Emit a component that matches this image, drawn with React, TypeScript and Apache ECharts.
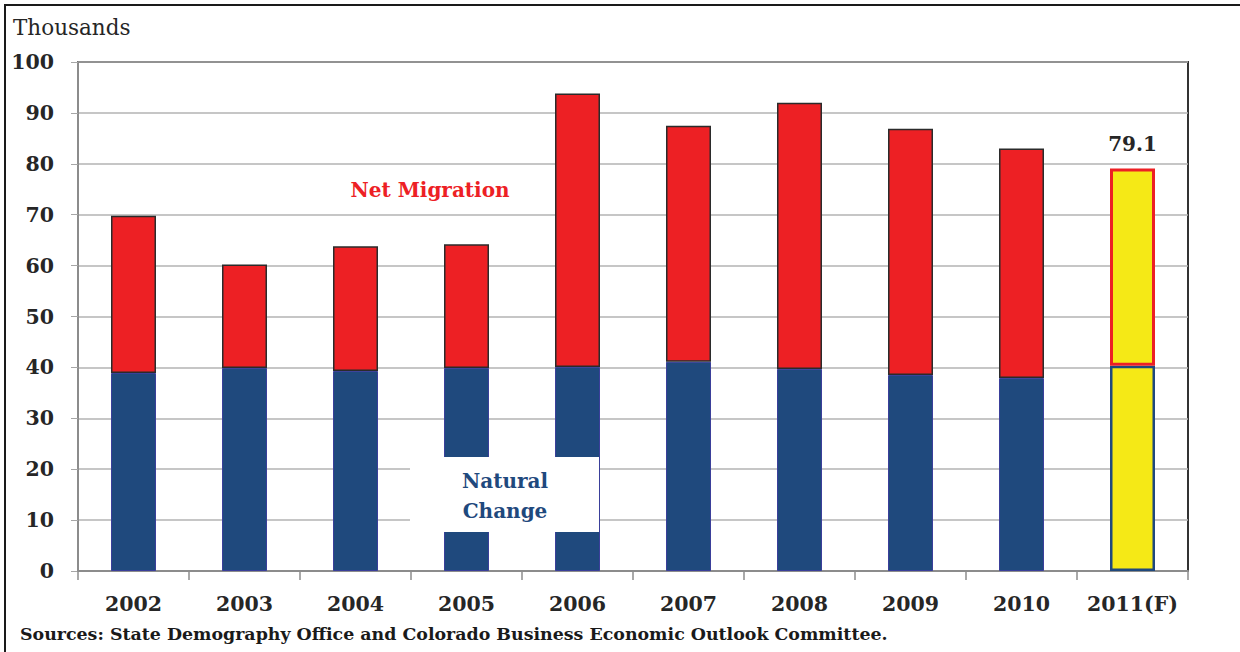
import React, { useEffect, useRef } from "react";
import * as echarts from "echarts";

const years = ["2002", "2003", "2004", "2005", "2006", "2007", "2008", "2009", "2010", "2011(F)"];
const naturalChange = [38.9, 39.9, 39.3, 39.9, 40.1, 41.1, 39.7, 38.5, 37.9, 40.3];
const totalGrowth = [69.8, 60.2, 63.8, 64.2, 93.8, 87.5, 92.0, 86.9, 83.0, 79.1];
const yTicks = [0, 10, 20, 30, 40, 50, 60, 70, 80, 90, 100];

const NAVY = "#1f497d";
const RED = "#ed2024";
const YELLOW = "#f5e916";
const FONT = "DejaVu Serif";

export default function App() {
  const ref = useRef<HTMLDivElement>(null);
  useEffect(() => {
    if (!ref.current) return;
    const chart = echarts.init(ref.current, undefined, { renderer: "svg" });
    const last = years.length - 1;
    const migration = totalGrowth.map((t, i) => +(t - naturalChange[i]).toFixed(1));
    chart.setOption({
      animation: false,
      backgroundColor: "#ffffff",
      grid: {
        left: 78,
        right: 52,
        top: 62,
        bottom: 81,
        show: true,
        borderColor: "#333333",
        borderWidth: 2,
        backgroundColor: "transparent",
      },
      xAxis: {
        type: "category",
        data: years,
        boundaryGap: true,
        axisLine: { lineStyle: { color: "#8c8c8c", width: 2 } },
        axisTick: { show: true, interval: 0, length: 9, alignWithLabel: false, lineStyle: { color: "#8c8c8c", width: 1.5 } },
        axisLabel: { interval: 0, fontFamily: FONT, fontWeight: "bold", fontSize: 20.5, color: "#262626", margin: 22 },
      },
      yAxis: {
        type: "value",
        min: yTicks[0],
        max: yTicks[yTicks.length - 1],
        interval: 10,
        axisLine: { show: true, lineStyle: { color: "#8c8c8c", width: 2 } },
        axisTick: { show: true, length: 7, lineStyle: { color: "#a6a6a6" } },
        splitLine: { lineStyle: { color: "#b3b3b3", width: 1.5 } },
        axisLabel: { fontFamily: FONT, fontWeight: "bold", fontSize: 20.5, color: "#262626", margin: 24 },
      },
      series: [
        {
          name: "Natural Change",
          type: "bar",
          stack: "total",
          barWidth: 45,
          data: naturalChange.map((v, i) =>
            i === last
              ? { value: v, itemStyle: { color: YELLOW, borderColor: NAVY, borderWidth: 2.5 } }
              : v
          ),
          itemStyle: { color: NAVY, borderColor: "#3a3f9a", borderWidth: 1 },
        },
        {
          name: "Net Migration",
          type: "bar",
          stack: "total",
          barWidth: 45,
          data: migration.map((v, i) =>
            i === last
              ? {
                  value: v,
                  itemStyle: { color: YELLOW, borderColor: RED, borderWidth: 3 },
                  label: {
                    show: true,
                    position: "top",
                    distance: 14,
                    formatter: () => totalGrowth[last].toFixed(1),
                    fontFamily: FONT,
                    fontWeight: "bold",
                    fontSize: 20,
                    color: "#262626",
                  },
                }
              : v
          ),
          itemStyle: { color: RED, borderColor: "#2b2b2b", borderWidth: 1.5 },
        },
      ],
      graphic: [
        { type: "line", shape: { x1: 4, y1: 5, x2: 1240, y2: 5 }, style: { stroke: "#1a1a1a", lineWidth: 2 } },
        { type: "line", shape: { x1: 5, y1: 4, x2: 5, y2: 652 }, style: { stroke: "#1a1a1a", lineWidth: 2 } },
        {
          type: "text",
          left: 13,
          top: 16,
          style: { text: "Thousands", fontFamily: FONT, fontSize: 21.5, fill: "#262626" },
        },
        {
          type: "text",
          x: 430,
          y: 190,
          style: {
            text: "Net Migration",
            fontFamily: FONT,
            fontWeight: "bold",
            fontSize: 20,
            fill: RED,
            align: "center",
            verticalAlign: "middle",
          },
        },
        {
          type: "rect",
          shape: { x: 410, y: 457, width: 189, height: 75 },
          style: { fill: "#ffffff" },
          z: 100,
        },
        {
          type: "text",
          x: 505,
          y: 496,
          z: 101,
          style: {
            text: "Natural\nChange",
            fontFamily: FONT,
            fontWeight: "bold",
            fontSize: 20,
            lineHeight: 30,
            fill: NAVY,
            align: "center",
            verticalAlign: "middle",
          },
        },
        {
          type: "text",
          left: 20,
          top: 625,
          style: {
            text: "Sources: State Demography Office and Colorado Business Economic Outlook Committee.",
            fontFamily: FONT,
            fontWeight: "bold",
            fontSize: 17.4,
            fill: "#1a1a1a",
          },
        },
      ],
    });
    return () => chart.dispose();
  }, []);
  return <div ref={ref} style={{ position: "fixed", left: 0, top: 0, width: 1240, height: 652 }} />;
}
